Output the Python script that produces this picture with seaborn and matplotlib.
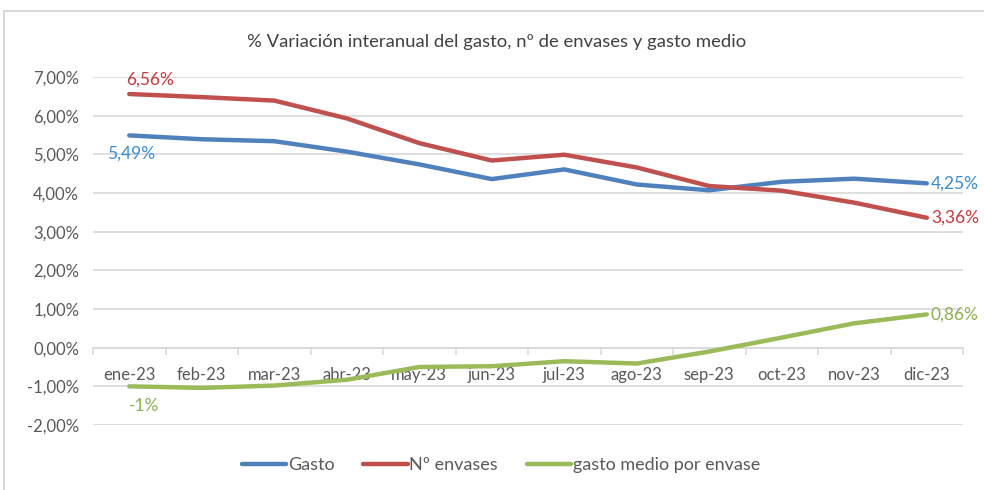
import pandas as pd
import matplotlib.pyplot as plt
import seaborn as sns
from matplotlib.ticker import FuncFormatter, FixedLocator
from matplotlib.patches import Rectangle

# data (% year-on-year change)
months = ["ene-23", "feb-23", "mar-23", "abr-23", "may-23", "jun-23",
          "jul-23", "ago-23", "sep-23", "oct-23", "nov-23", "dic-23"]
gasto = [5.49, 5.39, 5.34, 5.07, 4.74, 4.36, 4.61, 4.22, 4.07, 4.29, 4.37, 4.25]
envases = [6.56, 6.48, 6.39, 5.93, 5.29, 4.84, 4.99, 4.66, 4.18, 4.06, 3.75, 3.36]
gasto_medio = [-1.00, -1.04, -0.98, -0.83, -0.50, -0.48, -0.35, -0.41, -0.10, 0.26, 0.63, 0.86]
series_names = ["Gasto", "Nº envases", "gasto medio por envase"]
line_colors = ["#4F81BD", "#C0504D", "#9BBB59"]
label_colors = ["#3A8DD3", "#C8383A", "#8AB04E"]

df = pd.DataFrame({
    "mes": months * 3,
    "pos": list(range(12)) * 3,
    "valor": gasto + envases + gasto_medio,
    "serie": [series_names[0]] * 12 + [series_names[1]] * 12 + [series_names[2]] * 12,
})

sns.set_theme(style="white")
plt.rcParams["font.family"] = ["Lato", "DejaVu Sans"]

fig = plt.figure(figsize=(9.84, 4.9), dpi=100)
ax = fig.add_axes([93 / 984, 1 - 425 / 490, 870 / 984, 348 / 490])

sns.lineplot(data=df, x="pos", y="valor", hue="serie", hue_order=series_names,
             palette=line_colors, linewidth=3.2, ax=ax, legend=False,
             solid_capstyle="round", solid_joinstyle="round")

ax.set_xlim(-0.5, 11.5)
ax.set_ylim(-2, 7)
ax.set_xlabel("")
ax.set_ylabel("")

# horizontal gridlines
for v in range(-2, 8):
    ax.axhline(v, color="#D9D9D9", lw=1.2, zorder=0)

for s in ["top", "right", "left"]:
    ax.spines[s].set_visible(False)
ax.spines["bottom"].set_position(("data", 0))
ax.spines["bottom"].set_color("#D9D9D9")
ax.spines["bottom"].set_linewidth(1.2)
ax.spines["bottom"].set_zorder(0)

ax.set_xticks(range(12))
ax.set_xticklabels(months)
ax.xaxis.set_minor_locator(FixedLocator([i - 0.5 for i in range(13)]))
ax.tick_params(axis="x", which="major", length=0, pad=14, labelsize=12, labelcolor="#595959")
ax.tick_params(axis="x", which="minor", bottom=True, length=5, width=1.2, color="#D9D9D9")

ax.set_yticks(range(-2, 8))
ax.yaxis.set_major_formatter(FuncFormatter(lambda v, p: f"{v:.2f}%".replace(".", ",")))
ax.tick_params(axis="y", length=0, pad=10, labelsize=12, labelcolor="#595959")

# data labels
ax.annotate("6,56%", (0, envases[0]), xytext=(15, 10), textcoords="offset points",
            ha="center", va="center", color=label_colors[1], fontsize=12.5)
ax.annotate("5,49%", (0, gasto[0]), xytext=(1, -13), textcoords="offset points",
            ha="center", va="center", color=label_colors[0], fontsize=12.5)
ax.annotate("-1%", (0, gasto_medio[0]), xytext=(11, -14), textcoords="offset points",
            ha="center", va="center", color=label_colors[2], fontsize=12.5)
ax.annotate("4,25%", (11, gasto[-1]), xytext=(3, 0), textcoords="offset points",
            ha="left", va="center", color=label_colors[0], fontsize=12.5)
ax.annotate("3,36%", (11, envases[-1]), xytext=(3, 0), textcoords="offset points",
            ha="left", va="center", color=label_colors[1], fontsize=12.5)
ax.annotate("0,86%", (11, gasto_medio[-1]), xytext=(3, 0), textcoords="offset points",
            ha="left", va="center", color=label_colors[2], fontsize=12.5)

fig.text(497 / 984, 1 - 42 / 490, "% Variación interanual del gasto, nº de envases y gasto medio",
         ha="center", va="center", fontsize=13.3, color="#404040")

handles = [plt.Line2D([], [], color=c, lw=3.2, solid_capstyle="round") for c in line_colors]
fig.legend(handles, series_names, loc="center", bbox_to_anchor=(501 / 984, 1 - 465 / 490),
           ncol=3, frameon=False, fontsize=13, handlelength=2.45, handletextpad=0.1,
           columnspacing=1.6, labelcolor="#595959")

# chart border
fig.patches.append(Rectangle((4 / 984, -0.05), 1.1, 1 - 11 / 490 + 0.05, transform=fig.transFigure,
                             fill=False, edgecolor="#D9D9D9", lw=1.5))

fig.savefig("out.png", dpi=100)
